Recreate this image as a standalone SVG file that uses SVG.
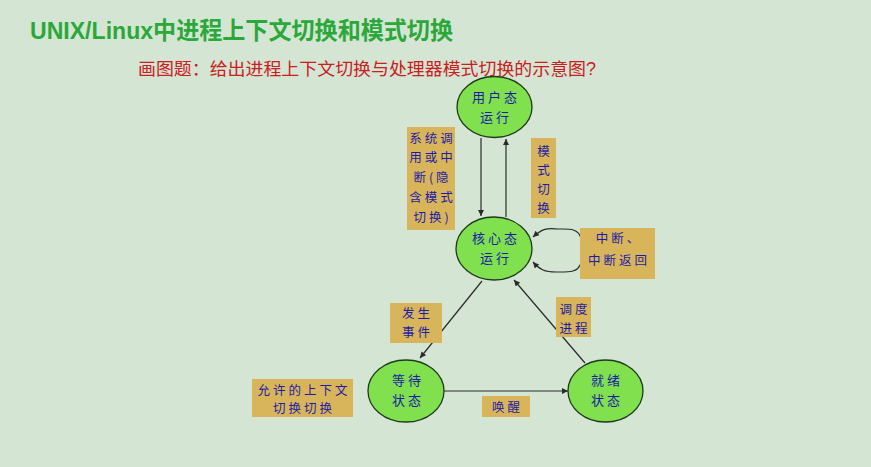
<svg xmlns="http://www.w3.org/2000/svg" width="871" height="467" viewBox="0 0 871 467">
<style>
.bg{fill:#d5e5d3}
.node{fill:#80e04e;stroke:#1e3a1e;stroke-width:1.3}
.box{fill:#d8b45a}
.nt{font-family:"Noto Sans CJK SC","Liberation Sans",sans-serif;font-size:13px;fill:#1c1ca8;text-anchor:middle;letter-spacing:3px}
.bt{font-family:"Noto Sans CJK SC","Liberation Sans",sans-serif;font-size:12.5px;fill:#1c1ca8;text-anchor:middle;letter-spacing:3px}
.edge{fill:none;stroke:#2a2a2a;stroke-width:1.2}
.title{font-family:"Liberation Sans","Noto Sans CJK SC",sans-serif;font-weight:bold;font-size:24px;fill:#2aa83a}
.sub{font-family:"Liberation Sans","Noto Sans CJK SC",sans-serif;font-size:17.5px;fill:#c8201e}
</style>
<defs>
<marker id="ah" viewBox="0 0 10 10" refX="10" refY="5" markerWidth="8" markerHeight="6" orient="auto" markerUnits="userSpaceOnUse">
<path d="M0,0 L10,5 L0,10 z" fill="#2a2a2a"/>
</marker>
</defs>
<rect class="bg" x="0" y="0" width="871" height="467"/>
<text class="title" x="30" y="39" textLength="423" lengthAdjust="spacingAndGlyphs">UNIX/Linux中进程上下文切换和模式切换</text>
<text class="sub" x="138" y="75" textLength="458" lengthAdjust="spacingAndGlyphs">画图题：给出进程上下文切换与处理器模式切换的示意图?</text>

<g id="connectors">
<line class="edge" x1="481" y1="138" x2="481" y2="216" marker-end="url(#ah)"/>
<line class="edge" x1="506" y1="217" x2="506" y2="139" marker-end="url(#ah)"/>
<path class="edge" d="M581,238 C578,228 568,229 560,229 C550,229 545,226 533,237" marker-end="url(#ah)"/>
<path class="edge" d="M581,263 C578,273 568,272 556,272 C545,272 540,270 533,262" marker-end="url(#ah)"/>
<line class="edge" x1="482" y1="281" x2="420" y2="358" marker-end="url(#ah)"/>
<line class="edge" x1="585" y1="363" x2="514" y2="280" marker-end="url(#ah)"/>
<line class="edge" x1="444" y1="391" x2="568" y2="391" marker-end="url(#ah)"/>
</g>

<g id="user">
<ellipse class="node" cx="494.5" cy="107" rx="37.5" ry="30.5"/>
<text class="nt" x="496" y="102">用户态</text>
<text class="nt" x="496" y="122">运行</text>
</g>
<g id="kernel">
<ellipse class="node" cx="494" cy="248.5" rx="38" ry="31.5"/>
<text class="nt" x="496" y="243">核心态</text>
<text class="nt" x="496" y="263">运行</text>
</g>
<g id="wait">
<ellipse class="node" cx="406" cy="391" rx="38" ry="31"/>
<text class="nt" x="408" y="385">等待</text>
<text class="nt" x="408" y="405">状态</text>
</g>
<g id="ready">
<ellipse class="node" cx="605.5" cy="391" rx="37.5" ry="31"/>
<text class="nt" x="607" y="385">就绪</text>
<text class="nt" x="607" y="405">状态</text>
</g>

<g id="label-syscall">
<rect class="box" x="407" y="127" width="48" height="103"/>
<text class="bt" x="432.5" y="143">系统调</text>
<text class="bt" x="432.5" y="162">用或中</text>
<text class="bt" x="432.5" y="182">断(隐</text>
<text class="bt" x="432.5" y="202">含模式</text>
<text class="bt" x="432.5" y="222">切换)</text>
</g>
<g id="label-mode">
<rect class="box" x="531" y="138" width="25" height="80"/>
<text class="bt" x="545" y="156">模</text>
<text class="bt" x="545" y="175">式</text>
<text class="bt" x="545" y="194">切</text>
<text class="bt" x="545" y="213">换</text>
</g>
<g id="label-interrupt">
<rect class="box" x="580" y="228" width="75" height="51"/>
<text class="bt" x="619" y="243">中断、</text>
<text class="bt" x="619" y="265">中断返回</text>
</g>
<g id="label-event">
<rect class="box" x="390" y="303" width="52" height="40"/>
<text class="bt" x="417.5" y="318">发生</text>
<text class="bt" x="417.5" y="337">事件</text>
</g>
<g id="label-dispatch">
<rect class="box" x="556" y="297" width="35" height="40"/>
<text class="bt" x="575" y="314">调度</text>
<text class="bt" x="575" y="333">进程</text>
</g>
<g id="label-allow">
<rect class="box" x="252" y="379" width="101" height="38"/>
<text class="bt" x="304" y="395">允许的上下文</text>
<text class="bt" x="304" y="413">切换切换</text>
</g>
<g id="label-wake">
<rect class="box" x="482" y="396" width="48" height="21"/>
<text class="bt" x="507.5" y="412">唤醒</text>
</g>
</svg>
